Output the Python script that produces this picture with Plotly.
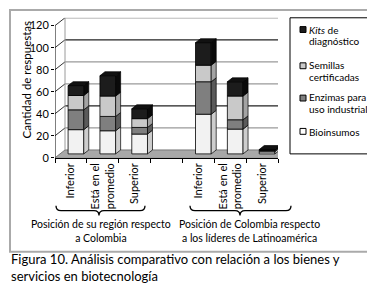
import plotly.graph_objects as go

# ---------------- data ----------------
categories = ["Inferior", "Está en el<br>promedio", "Superior",
              "Inferior", "Está en el<br>promedio", "Superior"]
group_of = [0, 0, 0, 1, 1, 1]
group_labels = ["Posición de su región respecto<br>a Colombia",
                "Posición de Colombia respecto<br>a los líderes de Latinoamérica"]
series_names = ["Bioinsumos", "Enzimas para uso industrial",
                "Semillas certificadas", "Kits de diagnóstico"]
bioinsumos = [22, 21, 18, 36, 22.5, 2]
enzimas = [18, 13, 6, 29.5, 8.5, 0]
semillas = [13, 18.5, 8, 15, 21.5, 1]
kits = [9, 18.5, 9, 20.5, 13, 1]
y_ticks = [0, 20, 40, 60, 80, 100, 120]
y_title = "Cantidad de respuestas"
caption = "Figura 10. Análisis comparativo con relación a los bienes y<br>servicios en biotecnología"
legend_lines = [["<i>Kits</i> de", "diagnóstico"],
                ["Semillas", "certificadas"],
                ["Enzimas para", "uso industrial"],
                ["Bioinsumos"]]

# ---------------- style ----------------
W, H = 375, 287
FONT = "Lato"
front_col = ["#f2f2f2", "#7f7f7f", "#c9c9c9", "#1c1c1c"]
side_col = ["#cdcdcd", "#5a5a5a", "#a3a3a3", "#0a0a0a"]
top_col = ["#e0e0e0", "#6a6a6a", "#b5b5b5", "#111111"]

X0_PX, X1_PX = 47, 270       # front axis extent (pixels)
Y0_PX, YTOP_PX = 153, 10     # y=0 pixel and top of wall pixel
PX_PER_UNIT = 135 / 120
n_slots = 7
PX_PER_CAT = (X1_PX - X0_PX) / n_slots
DXW, DYW = 10 / PX_PER_CAT, 8 / PX_PER_UNIT      # wall depth
DXB, DYB = 5 / PX_PER_CAT, 4 / PX_PER_UNIT       # bar depth / offset
BW = 15.7 / PX_PER_CAT
y_max = (Y0_PX - YTOP_PX) / PX_PER_UNIT

def px(x):
    return x / W

def py(y):
    return 1 - y / H

xpos = [i + g for i, g in enumerate(group_of)]
series = [bioinsumos, enzimas, semillas, kits]

fig = go.Figure()

# front faces
cum = [0.0] * len(categories)
bases = []
for s, vals in enumerate(series):
    b = [DYB + c for c in cum]
    bases.append(b)
    fig.add_trace(go.Bar(
        x=[p + DXB for p in xpos], y=vals, base=b, width=BW,
        marker=dict(color=front_col[s], line=dict(color="black", width=0.8)),
        name=series_names[s], showlegend=False, hoverinfo="skip"))
    cum = [c + v for c, v in zip(cum, vals)]

# side faces
for s, vals in enumerate(series):
    xs, ys = [], []
    for i, p in enumerate(xpos):
        if vals[i] <= 0:
            continue
        xr = p + DXB + BW / 2
        b = bases[s][i]
        t = b + vals[i]
        xs += [xr, xr + DXB, xr + DXB, xr, xr, None]
        ys += [b, b + DYB, t + DYB, t, b, None]
    fig.add_trace(go.Scatter(x=xs, y=ys, mode="lines", fill="toself",
                             fillcolor=side_col[s],
                             line=dict(color="black", width=0.7),
                             showlegend=False, hoverinfo="skip"))
# top face on topmost non-zero segment
tx, ty = [], []
for i, p in enumerate(xpos):
    top_s = max(s for s in range(4) if series[s][i] > 0)
    T = bases[top_s][i] + series[top_s][i]
    xl = p + DXB - BW / 2
    xr = p + DXB + BW / 2
    tx += [xl, xr, xr + DXB, xl + DXB, xl, None]
    ty += [T, T, T + DYB, T + DYB, T, None]
fig.add_trace(go.Scatter(x=tx, y=ty, mode="lines", fill="toself",
                         fillcolor=top_col[3],
                         line=dict(color="black", width=0.7),
                         showlegend=False, hoverinfo="skip"))

shapes = []
xl_ax, xr_ax = -0.5, n_slots - 0.5
# floor
shapes.append(dict(type="path", xref="x", yref="y", layer="below",
                   path=f"M {xl_ax},0 L {xr_ax},0 L {xr_ax+DXW},{DYW} L {xl_ax+DXW},{DYW} Z",
                   fillcolor="#a8a8a8", line=dict(color="#777777", width=1)))
# back wall gridlines + left wall diagonals
for v in y_ticks:
    if v == 0:
        continue
    col = "#222222" if v in (40, 100) else "#9a9a9a"
    shapes.append(dict(type="line", xref="x", yref="y", layer="below",
                       x0=xl_ax + DXW, x1=xr_ax + DXW, y0=v + DYW, y1=v + DYW,
                       line=dict(color=col, width=1.2)))
    shapes.append(dict(type="line", xref="x", yref="y", layer="below",
                       x0=xl_ax, x1=xl_ax + DXW, y0=v, y1=v + DYW,
                       line=dict(color="#333333", width=1)))
shapes.append(dict(type="line", xref="x", yref="y", layer="below",
                   x0=xl_ax + DXW, x1=xl_ax + DXW, y0=DYW, y1=120 + DYW,
                   line=dict(color="#9a9a9a", width=1)))
# front y axis line
shapes.append(dict(type="line", xref="x", yref="y",
                   x0=xl_ax, x1=xl_ax, y0=0, y1=120,
                   line=dict(color="black", width=1)))

# braces under the groups
def brace(x0, x1, ytop, ymid, ytip, xm=None):
    if xm is None:
        xm = (x0 + x1) / 2
    r = 5
    pts = (f"M {px(x0)},{py(ytop)} Q {px(x0)},{py(ymid)} {px(x0+r)},{py(ymid)} "
           f"L {px(xm-r)},{py(ymid)} Q {px(xm)},{py(ymid)} {px(xm)},{py(ytip)} "
           f"Q {px(xm)},{py(ymid)} {px(xm+r)},{py(ymid)} "
           f"L {px(x1-r)},{py(ymid)} Q {px(x1)},{py(ymid)} {px(x1)},{py(ytop)}")
    return dict(type="path", xref="paper", yref="paper", path=pts,
                line=dict(color="black", width=1.3))

shapes.append(brace(48, 137, 202, 207, 212, 91))
shapes.append(brace(182, 283, 202, 207, 212, 232))

# legend box
shapes.append(dict(type="rect", xref="paper", yref="paper",
                   x0=px(282), x1=px(365), y0=py(10), y1=py(149),
                   line=dict(color="black", width=1), fillcolor="white"))
# outer frame
shapes.append(dict(type="rect", xref="paper", yref="paper",
                   x0=px(2), x1=px(371), y0=py(2), y1=py(249),
                   line=dict(color="#aaaaaa", width=2)))

annotations = []
# legend entries
leg_sq_y = [22, 59, 92, 126]
leg_text_y = [[22, 34], [58, 70], [91, 103], [127]]
leg_order = [3, 2, 1, 0]
for k, s in enumerate(leg_order):
    cy = leg_sq_y[k]
    shapes.append(dict(type="rect", xref="paper", yref="paper",
                       x0=px(292), x1=px(298), y0=py(cy + 3), y1=py(cy - 3),
                       fillcolor=front_col[s] if s != 0 else "white",
                       line=dict(color="black", width=1)))
    for line_txt, ly in zip(legend_lines[k], leg_text_y[k]):
        annotations.append(dict(xref="paper", yref="paper", x=px(300), y=py(ly),
                                xanchor="left", yanchor="middle", showarrow=False,
                                borderpad=0,
                                text=line_txt, font=dict(family=FONT, size=10, color="black")))

# y title
annotations.append(dict(xref="paper", yref="paper", x=px(18), y=py(73),
                        text=y_title, textangle=-90, showarrow=False,
                        xanchor="center", yanchor="middle",
                        font=dict(family=FONT, size=11.5, color="black")))
# group labels
for gx, gl in zip([93, 241], group_labels):
    annotations.append(dict(xref="paper", yref="paper", x=px(gx), y=py(228),
                            text=gl, showarrow=False, xanchor="center", yanchor="middle",
                            font=dict(family=FONT, size=10.5, color="black")))
# caption
annotations.append(dict(xref="paper", yref="paper", x=px(1), y=py(265),
                        text=caption, showarrow=False, xanchor="left", yanchor="middle",
                        align="left",
                        font=dict(family=FONT, size=13, color="black")))

fig.update_layout(
    width=W, height=H, margin=dict(l=0, r=0, t=0, b=0),
    paper_bgcolor="white", plot_bgcolor="rgba(0,0,0,0)",
    barmode="overlay", showlegend=False,
    font=dict(family=FONT, size=11, color="black"),
    shapes=shapes, annotations=annotations,
    xaxis=dict(domain=[px(X0_PX), px(X1_PX)], range=[xl_ax, xr_ax],
               tickmode="array", tickvals=xpos, ticktext=categories,
               tickangle=-90, ticks="", showgrid=False, zeroline=False,
               showline=True, linecolor="black", linewidth=1,
               tickfont=dict(family=FONT, size=11, color="black"),
               minor=dict(tickmode="linear", tick0=-0.5, dtick=1, ticks="outside",
                          ticklen=4, tickcolor="black", showgrid=False)),
    yaxis=dict(domain=[py(Y0_PX), py(YTOP_PX)], range=[0, y_max],
               tickmode="array", tickvals=y_ticks, ticks="outside", ticklen=3,
               tickcolor="black", showgrid=False, zeroline=False, showline=False,
               tickfont=dict(family=FONT, size=11, color="black")),
)

fig.write_html("out.html")
